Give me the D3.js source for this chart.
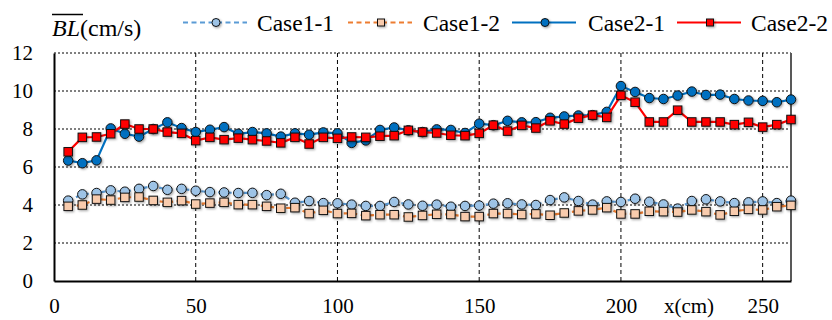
<!DOCTYPE html>
<html>
<head>
<meta charset="utf-8">
<script src="https://cdn.jsdelivr.net/npm/d3@7"></script>
<style>
  html, body { margin: 0; padding: 0; background: #fff; }
  svg { display: block; }
</style>
</head>
<body>
<svg id="chart"></svg>
<script>
let width = 832, height = 320;
let margin = { top: 53, right: 41, bottom: 39, left: 54 };
let font = "Liberation Serif";

// Data
let xPos = [5, 10, 15, 20, 25, 30, 35, 40, 45, 50, 55, 60, 65, 70, 75, 80, 85, 90, 95, 100,
  105, 110, 115, 120, 125, 130, 135, 140, 145, 150, 155, 160, 165, 170, 175, 180, 185, 190, 195, 200,
  205, 210, 215, 220, 225, 230, 235, 240, 245, 250, 255, 260];

let case11 = [4.23, 4.56, 4.63, 4.77, 4.70, 4.85, 5.00, 4.80, 4.85, 4.75, 4.68, 4.66, 4.63,
  4.64, 4.52, 4.59, 4.12, 4.21, 4.10, 4.09, 4.02, 3.95, 3.95, 4.16, 4.03, 3.96,
  4.02, 3.91, 3.95, 3.97, 4.07, 4.09, 4.03, 4.00, 4.26, 4.40, 4.21, 4.02, 4.19,
  4.16, 4.33, 4.17, 4.03, 3.81, 4.21, 4.30, 4.19, 4.10, 4.14, 4.19, 4.10, 4.23];

let case12 = [3.93, 4.00, 4.31, 4.26, 4.40, 4.42, 4.24, 4.14, 4.23, 4.05, 4.10, 4.14, 4.02,
  4.02, 3.93, 3.83, 3.86, 3.55, 3.72, 3.55, 3.56, 3.44, 3.49, 3.49, 3.37, 3.45,
  3.51, 3.50, 3.39, 3.39, 3.55, 3.55, 3.50, 3.53, 3.46, 3.58, 3.69, 3.74, 3.86,
  3.53, 3.53, 3.67, 3.65, 3.63, 3.74, 3.65, 3.48, 3.67, 3.77, 3.74, 3.91, 3.98];

let case21 = [6.34, 6.20, 6.35, 8.03, 7.75, 7.60, 8.00, 8.35, 8.05, 7.84, 7.96, 8.10, 7.75,
  7.84, 7.77, 7.60, 7.77, 7.70, 7.82, 7.77, 7.27, 7.40, 7.95, 8.08, 7.93, 7.84,
  7.98, 7.95, 7.79, 8.28, 8.20, 8.43, 8.35, 8.36, 8.59, 8.66, 8.71, 8.73, 8.90,
  10.26, 9.95, 9.63, 9.58, 9.76, 9.97, 9.79, 9.81, 9.58, 9.50, 9.48, 9.41, 9.55];

let case22 = [6.80, 7.56, 7.58, 7.75, 8.26, 8.00, 8.00, 7.84, 7.77, 7.39, 7.56, 7.44, 7.52,
  7.44, 7.37, 7.27, 7.56, 7.21, 7.56, 7.51, 7.58, 7.56, 7.62, 7.65, 7.93, 7.84,
  7.79, 7.67, 7.65, 7.77, 8.20, 7.89, 8.19, 8.05, 8.43, 8.26, 8.57, 8.73, 8.61,
  9.77, 9.41, 8.37, 8.37, 8.99, 8.37, 8.37, 8.37, 8.23, 8.35, 8.10, 8.23, 8.50];

let seriesNames = ["Case1-1", "Case1-2", "Case2-1", "Case2-2"];
let xTicks = [0, 50, 100, 150, 200, 250];
let yTicks = [0, 2, 4, 6, 8, 10, 12];

let series = [
  { name: seriesNames[0], values: case11, line: "#5B9BD5", fill: "#9DC3E6", shape: "circle", dash: "5,3.5" },
  { name: seriesNames[1], values: case12, line: "#ED7D31", fill: "#F8CBAD", shape: "square", dash: "5,3.5" },
  { name: seriesNames[2], values: case21, line: "#0070C0", fill: "#0070C0", shape: "circle", dash: null },
  { name: seriesNames[3], values: case22, line: "#FF0000", fill: "#FF0000", shape: "square", dash: null }
];

// Scales
let xScale = d3.scaleLinear()
  .domain([0, 260])
  .range([margin.left, width - margin.right]);

let yScale = d3.scaleLinear()
  .domain([0, 12])
  .range([height - margin.bottom, margin.top]);

let svg = d3.select("#chart")
  .attr("width", width)
  .attr("height", height)
  .attr("viewBox", [0, 0, width, height])
  .attr("font-family", font);

// marker shadow
let filter = svg.append("defs").append("filter")
  .attr("id", "shadow")
  .attr("x", "-50%").attr("y", "-50%")
  .attr("width", "200%").attr("height", "200%");
filter.append("feDropShadow")
  .attr("dx", 1.2).attr("dy", 1.2)
  .attr("stdDeviation", 0.8)
  .attr("flood-color", "#000")
  .attr("flood-opacity", 0.35);

// Grid
svg.append("g")
  .selectAll("line")
  .data(yTicks.filter(d => d > 0))
  .join("line")
  .attr("x1", margin.left)
  .attr("x2", width - margin.right)
  .attr("y1", d => yScale(d))
  .attr("y2", d => yScale(d))
  .attr("stroke", "#000")
  .attr("stroke-width", 1)
  .attr("stroke-dasharray", "2,2");

svg.append("g")
  .selectAll("line")
  .data(xTicks.filter(d => d > 0))
  .join("line")
  .attr("x1", d => xScale(d))
  .attr("x2", d => xScale(d))
  .attr("y1", yScale(0))
  .attr("y2", yScale(12))
  .attr("stroke", "#000")
  .attr("stroke-width", 1)
  .attr("stroke-dasharray", "4,3");

// Right border
svg.append("line")
  .attr("x1", xScale(260)).attr("x2", xScale(260))
  .attr("y1", yScale(0)).attr("y2", yScale(12))
  .attr("stroke", "#595959")
  .attr("stroke-width", 2);

// Axes
let xAxis = d3.axisBottom(xScale).tickValues(xTicks).tickSize(0).tickPadding(17);
let yAxis = d3.axisLeft(yScale).tickValues(yTicks).tickSize(0).tickPadding(21);

let gx = svg.append("g")
  .attr("transform", `translate(0,${yScale(0)})`)
  .call(xAxis)
  .attr("font-family", font);
gx.select("path.domain").attr("stroke", "#000").attr("stroke-width", 2);
gx.selectAll("text")
  .attr("font-size", 21)
  .attr("fill", "#000");

let gy = svg.append("g")
  .attr("transform", `translate(${margin.left},0)`)
  .call(yAxis)
  .attr("font-family", font);
gy.select("path.domain").attr("stroke", "#000").attr("stroke-width", 2);
gy.selectAll("text")
  .attr("font-size", 21)
  .attr("fill", "#000");

// x axis title
svg.append("text")
  .attr("x", 689)
  .attr("y", 313)
  .attr("text-anchor", "middle")
  .attr("font-size", 21)
  .attr("fill", "#000")
  .text("x(cm)");

// y axis title with overline
let title = svg.append("text")
  .attr("x", 52)
  .attr("y", 36)
  .attr("font-size", 24)
  .attr("fill", "#000");
title.append("tspan").attr("font-style", "italic").text("BL");
title.append("tspan").text("(cm/s)");
svg.append("line")
  .attr("x1", 52).attr("x2", 83)
  .attr("y1", 14.5).attr("y2", 14.5)
  .attr("stroke", "#000")
  .attr("stroke-width", 1.5);

// markers
function drawMarker(g, s, x, y, size) {
  if (s.shape === "circle") {
    g.append("circle")
      .attr("cx", x).attr("cy", y).attr("r", size / 2)
      .attr("fill", s.fill)
      .attr("stroke", "#111")
      .attr("stroke-width", 1);
  } else {
    g.append("rect")
      .attr("x", x - size / 2).attr("y", y - size / 2)
      .attr("width", size).attr("height", size)
      .attr("fill", s.fill)
      .attr("stroke", "#111")
      .attr("stroke-width", 1);
  }
}

let line = d3.line()
  .x((d, i) => xScale(xPos[i]))
  .y(d => yScale(d));

series.forEach(s => {
  let g = svg.append("g");
  g.append("path")
    .attr("d", line(s.values))
    .attr("fill", "none")
    .attr("stroke", s.line)
    .attr("stroke-width", 2.2)
    .attr("stroke-dasharray", s.dash);
  let mg = g.append("g").attr("filter", "url(#shadow)");
  s.values.forEach((v, i) => {
    drawMarker(mg, s, xScale(xPos[i]), yScale(v), s.shape === "circle" ? 9.5 : 8.5);
  });
});

// Legend
let legendX = [183, 348, 512, 677];
let legendTextX = [257, 423, 588, 751];
series.forEach((s, i) => {
  let g = svg.append("g");
  g.append("line")
    .attr("x1", legendX[i]).attr("x2", legendX[i] + 64)
    .attr("y1", 22.5).attr("y2", 22.5)
    .attr("stroke", s.line)
    .attr("stroke-width", 2.2)
    .attr("stroke-dasharray", s.dash);
  let mg = g.append("g").attr("filter", "url(#shadow)");
  drawMarker(mg, s, legendX[i] + 33, 22.5, s.shape === "circle" ? 8 : 7);
  g.append("text")
    .attr("x", legendTextX[i])
    .attr("y", 31)
    .attr("font-size", 23.5)
    .attr("fill", "#000")
    .text(s.name);
});
</script>
</body>
</html>
